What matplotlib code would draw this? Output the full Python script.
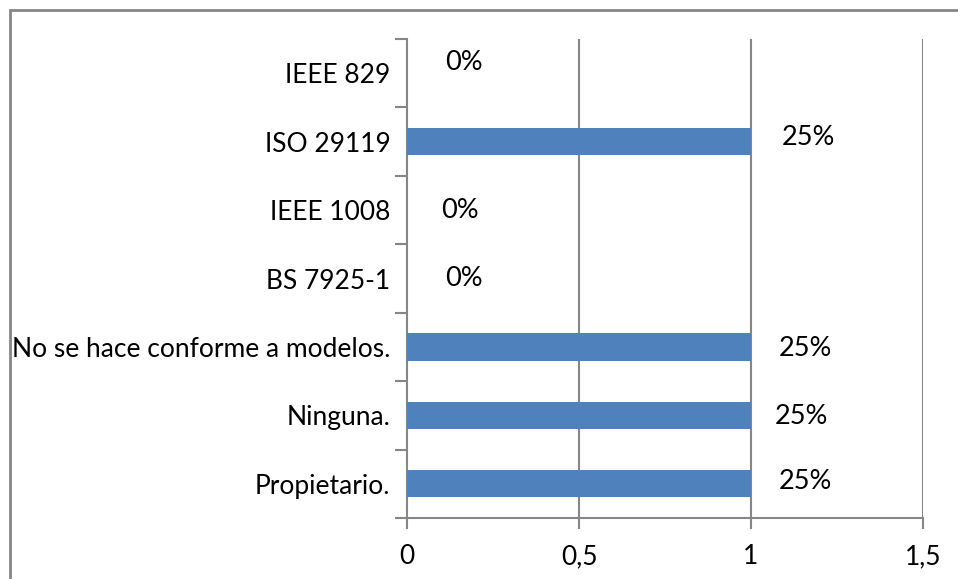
import matplotlib
matplotlib.use('Agg')
import matplotlib.pyplot as plt
from matplotlib.patches import Rectangle

# === DATEN ===
categorias = ['IEEE 829', 'ISO 29119', 'IEEE 1008', 'BS 7925-1',
              'No se hace conforme a modelos.', 'Ninguna.', 'Propietario.']
valores = [0, 1, 0, 0, 1, 1, 1]
etiquetas = ['0%', '25%', '0%', '0%', '25%', '25%', '25%']
xticks = [0, 0.5, 1, 1.5]
xticklabels = ['0', '0,5', '1', '1,5']

# kleine Verschiebungen der Datenbeschriftungen (x in Achsen-Einheiten, y in Kategorien)
label_dx = [0.11, 0.09, 0.10, 0.11, 0.08, 0.07, 0.08]
label_dy = [-0.15, -0.06, 0.0, 0.0, 0.03, 0.02, -0.03]

BALKEN = '#4F81BD'
GRAU = '#868686'
plt.rcParams['font.family'] = ['Lato', 'DejaVu Sans']

fig = plt.figure(figsize=(9.58, 5.79), dpi=100)
ax = fig.add_axes([407 / 958, 1 - 518 / 579, 516 / 958, 479 / 579])

y = list(range(len(categorias)))
ax.barh(y, valores, height=0.4, color=BALKEN, zorder=3)

for i, (v, t) in enumerate(zip(valores, etiquetas)):
    ax.text(v + label_dx[i], i + label_dy[i], t, ha='left', va='center',
            fontsize=19.5, color='black', zorder=4)

ax.set_xlim(0, 1.5)
ax.set_ylim(len(categorias) - 0.5, -0.5)
ax.set_xticks(xticks)
ax.set_xticklabels(xticklabels, fontsize=19)
ax.set_yticks(y)
ax.set_yticklabels(categorias, fontsize=19)
# Tick-Striche zwischen den Kategorien
ax.set_yticks([i - 0.5 for i in range(len(categorias) + 1)], minor=True)
ax.tick_params(axis='y', which='major', length=0, pad=12)
ax.tick_params(axis='y', which='minor', length=9, width=1.5, color=GRAU, direction='out')
ax.tick_params(axis='x', length=8, width=1.5, color=GRAU, direction='out', pad=11)

for x in xticks[1:]:
    ax.axvline(x, color=GRAU, linewidth=1.5, zorder=1)

for s in ['top', 'right']:
    ax.spines[s].set_visible(False)
for s in ['left', 'bottom']:
    ax.spines[s].set_color(GRAU)
    ax.spines[s].set_linewidth(1.5)

# Rahmen um das Diagramm (rechts und unten abgeschnitten)
fig.add_artist(Rectangle((10 / 958, -0.1), 2, 1.1 - 10 / 579, transform=fig.transFigure,
                         fill=False, edgecolor=GRAU, linewidth=2, clip_on=False))

fig.savefig('out.png', dpi=100)
